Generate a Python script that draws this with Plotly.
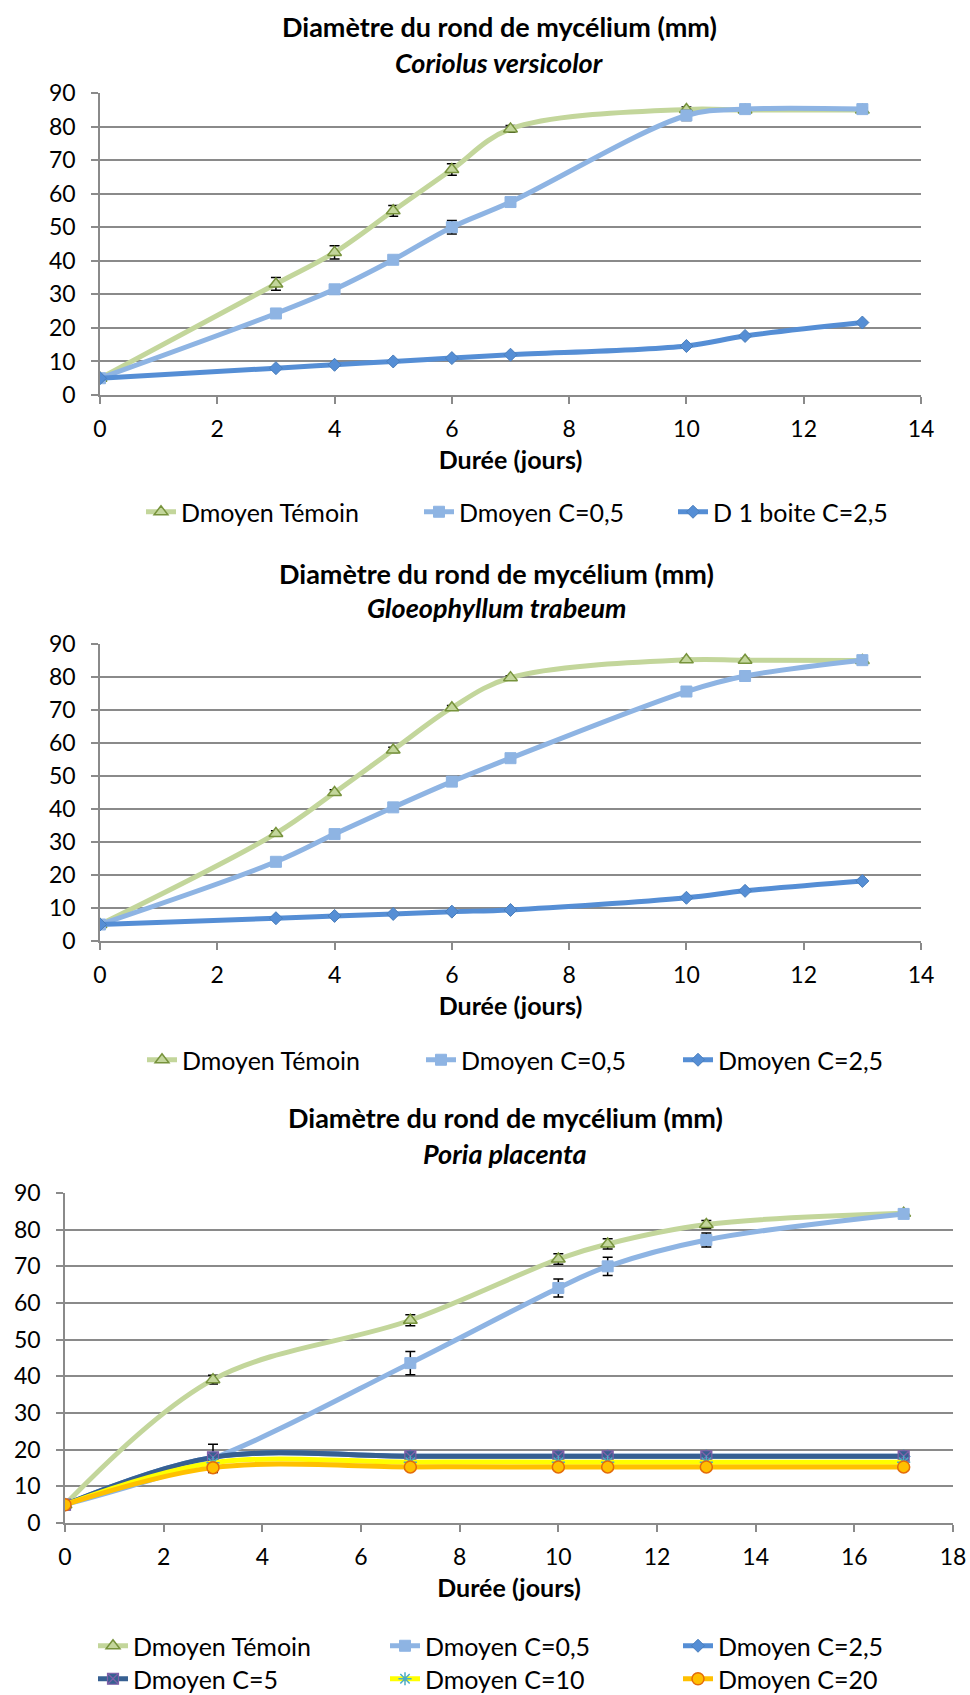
import plotly.graph_objects as go

W, H = 970, 1695
OFF = 0  # page body margin is removed by a post script

# ---------------- data ----------------
days_cv = [0, 3, 4, 5, 6, 7, 10, 11, 13]
cv_temoin = [5, 33.1, 42.5, 54.9, 67.2, 79.3, 85.1, 84.9, 84.9]
cv_temoin_err = [0, 1.9, 2.0, 1.6, 1.7, 1.0, 0.7, 0.5, 0.5]
cv_c05 = [5, 24.3, 31.5, 40.3, 50.0, 57.5, 83.3, 85.2, 85.2]
cv_c05_err = [0, 1.0, 0.7, 0.8, 2.0, 0.8, 1.5, 0.5, 0.5]
cv_c25 = [5, 8, 9, 10, 11, 12, 14.6, 17.6, 21.6]

days_gt = [0, 3, 4, 5, 6, 7, 10, 11, 13]
gt_temoin = [5, 32.6, 45.0, 57.9, 70.7, 79.8, 85.2, 85.1, 85.0]
gt_temoin_err = [0, 0.8, 0.8, 0.8, 0.7, 0.6, 0.5, 0.5, 0.5]
gt_c05 = [5, 24.0, 32.4, 40.5, 48.3, 55.4, 75.6, 80.3, 85.1]
gt_c05_err = [0, 0.6, 0.6, 0.6, 0.6, 0.6, 0.6, 0.6, 0.5]
gt_c25 = [5, 6.9, 7.6, 8.2, 8.9, 9.4, 13.1, 15.2, 18.2]
gt_c25_err = [0, 0.3, 0.3, 0.3, 0.3, 0.3, 0.3, 0.3, 0.3]

days_pp = [0, 3, 7, 10, 11, 13, 17]
pp_temoin = [5, 39.1, 55.3, 72.0, 76.1, 81.4, 84.5]
pp_temoin_err = [0, 1.2, 1.5, 1.4, 1.4, 1.1, 0.5]
pp_c05 = [5, 17.6, 43.6, 64.1, 70.0, 77.2, 84.3]
pp_c05_err = [0, 3.85, 3.2, 2.45, 2.5, 1.9, 0.6]
pp_c25 = [5, 17.9, 18.2, 18.2, 18.2, 18.2, 18.2]
pp_c5 = [5, 17.9, 18.2, 18.2, 18.2, 18.2, 18.2]
pp_c10 = [5, 16.4, 16.6, 16.6, 16.6, 16.6, 16.6]
pp_c20 = [5, 15.1, 15.3, 15.3, 15.3, 15.3, 15.3]

titles = ["Diamètre du rond de mycélium (mm)"] * 3
subtitles = ["Coriolus versicolor", "Gloeophyllum trabeum", "Poria placenta"]
xtitle = "Durée (jours)"

FONT = "Lato"
FS_TICK = 23
FS_TITLE = 27
FS_LEG = 25
FS_AXT = 25
GRID = "#8a8a8a"
LW = 5

# styles
def style(kind):
    if kind == "temoin":
        return dict(line=dict(color="#C3D69B", width=LW),
                    marker=dict(symbol="triangle-up", size=12, color="#C3D69B",
                                line=dict(color="#77933C", width=1.5)))
    if kind == "c05":
        return dict(line=dict(color="#8EB4E3", width=LW),
                    marker=dict(symbol="square", size=11, color="#8EB4E3",
                                line=dict(color="#8EB4E3", width=1)))
    if kind == "c25":
        return dict(line=dict(color="#558ED5", width=LW),
                    marker=dict(symbol="diamond", size=10, color="#558ED5",
                                line=dict(color="#4A7EBB", width=1)))
    if kind == "c5":
        return dict(line=dict(color="#376092", width=LW),
                    marker=dict(symbol="square-x", size=11, color="#376092",
                                line=dict(color="#7F5FA8", width=1.2)))
    if kind == "c10":
        return dict(line=dict(color="#FFFF00", width=LW),
                    marker=dict(symbol="asterisk-open", size=11, color="#4BACC6",
                                line=dict(color="#4BACC6", width=1.5)))
    if kind == "c20":
        return dict(line=dict(color="#FFC000", width=LW),
                    marker=dict(symbol="circle", size=12, color="#FFC000",
                                line=dict(color="#E46C0A", width=1.5)))

fig = go.Figure()

def add(x, y, name, kind, ax, legend, err=None):
    st = style(kind)
    kw = {}
    if err is not None:
        kw["error_y"] = dict(type="data", array=err, visible=True, color="black",
                             thickness=1.5, width=5)
    fig.add_trace(go.Scatter(
        x=x, y=y, name=name, mode="lines+markers", showlegend=True,
        line=dict(shape="spline", smoothing=1.0, **st["line"]),
        marker=st["marker"], xaxis="x" + ax, yaxis="y" + ax, legend=legend,
        **kw))

add(days_cv, cv_temoin, "Dmoyen Témoin", "temoin", "", "legend", cv_temoin_err)
add(days_cv, cv_c05, "Dmoyen C=0,5", "c05", "", "legend2", cv_c05_err)
add(days_cv, cv_c25, "D 1 boite C=2,5", "c25", "", "legend3")

add(days_gt, gt_temoin, "Dmoyen Témoin", "temoin", "2", "legend4", gt_temoin_err)
add(days_gt, gt_c05, "Dmoyen C=0,5", "c05", "2", "legend5", gt_c05_err)
add(days_gt, gt_c25, "Dmoyen C=2,5", "c25", "2", "legend6", gt_c25_err)

add(days_pp, pp_temoin, "Dmoyen Témoin", "temoin", "3", "legend7", pp_temoin_err)
add(days_pp, pp_c05, "Dmoyen C=0,5", "c05", "3", "legend8", pp_c05_err)
add(days_pp, pp_c25, "Dmoyen C=2,5", "c25", "3", "legend9")
add(days_pp, pp_c5, "Dmoyen C=5", "c5", "3", "legend10")
add(days_pp, pp_c10, "Dmoyen C=10", "c10", "3", "legend11")
add(days_pp, pp_c20, "Dmoyen C=20", "c20", "3", "legend12")

def px_x(p):
    return (p - OFF) / W

def px_y(p):
    return 1 - (p - OFF) / H

# plot areas in window pixels: (left, right, top, bottom)
areas = [(100, 921, 93, 395), (100, 921, 644, 941), (65, 953, 1193, 1523)]
xranges = [[0, 14], [0, 14], [0, 18]]

layout = dict(width=W, height=H,
              margin=dict(l=0, r=0, t=0, b=0, pad=0, autoexpand=False),
              paper_bgcolor="white", plot_bgcolor="white", showlegend=True,
              font=dict(family=FONT, size=FS_TICK, color="black"))

for i, (l, r, t, b) in enumerate(areas):
    sfx = "" if i == 0 else str(i + 1)
    layout["xaxis" + sfx] = dict(
        domain=[px_x(l), px_x(r)], range=xranges[i], dtick=2, tick0=0,
        anchor="y" + sfx, showgrid=False, zeroline=False, showline=True,
        linecolor=GRID, linewidth=1.5, ticks="outside", ticklen=7,
        tickcolor=GRID, tickwidth=1.5, ticklabelstandoff=6,
        ticklabeloverflow="allow",
        tickfont=dict(family=FONT, size=FS_TICK),
        title=dict(text="<b>" + xtitle + "</b>", standoff=10,
                   font=dict(family=FONT, size=FS_AXT)))
    layout["yaxis" + sfx] = dict(
        domain=[px_y(b), px_y(t)], range=[0, 90], dtick=10, tick0=0,
        anchor="x" + sfx, showgrid=True, gridcolor=GRID, gridwidth=1.5,
        zeroline=False, showline=True, linecolor=GRID, linewidth=1.5,
        ticks="outside", ticklen=7, tickcolor=GRID, tickwidth=1.5,
        ticklabelstandoff=11, tickfont=dict(family=FONT, size=FS_TICK))

annotations = []
title_pos = [(500, 27, 62), (497, 573, 607), (505, 1117, 1153)]
for i, (cx, y1, y2) in enumerate(title_pos):
    annotations.append(dict(text="<b>" + titles[i] + "</b>", x=px_x(cx), y=px_y(y1),
                            xref="paper", yref="paper", showarrow=False,
                            xanchor="center", yanchor="middle",
                            font=dict(family=FONT, size=FS_TITLE)))
    annotations.append(dict(text="<b><i>" + subtitles[i] + "</i></b>", x=px_x(cx),
                            y=px_y(y2), xref="paper", yref="paper", showarrow=False,
                            xanchor="center", yanchor="middle",
                            font=dict(family=FONT, size=FS_TITLE)))
layout["annotations"] = annotations

# legend placements (text start x, center y) in window pixels
leg_pos = [(183, 512), (461, 512), (715, 512),
           (184, 1060), (463, 1060), (720, 1060),
           (135, 1646), (427, 1646), (720, 1646),
           (135, 1679), (427, 1679), (720, 1679)]
for i, (tx, cy) in enumerate(leg_pos):
    key = "legend" if i == 0 else "legend" + str(i + 1)
    layout[key] = dict(x=px_x(tx - 42), y=px_y(cy), xanchor="left",
                       yanchor="middle", orientation="h",
                       bgcolor="rgba(0,0,0,0)", borderwidth=0,
                       font=dict(family=FONT, size=FS_LEG), tracegroupgap=0)

fig.update_layout(**layout)
fig.write_html(
    "out.html",
    config={"displayModeBar": False},
    post_script=("document.body.style.margin='0';"
                 "document.body.style.padding='0';"
                 "document.documentElement.style.overflow='hidden';"),
)
